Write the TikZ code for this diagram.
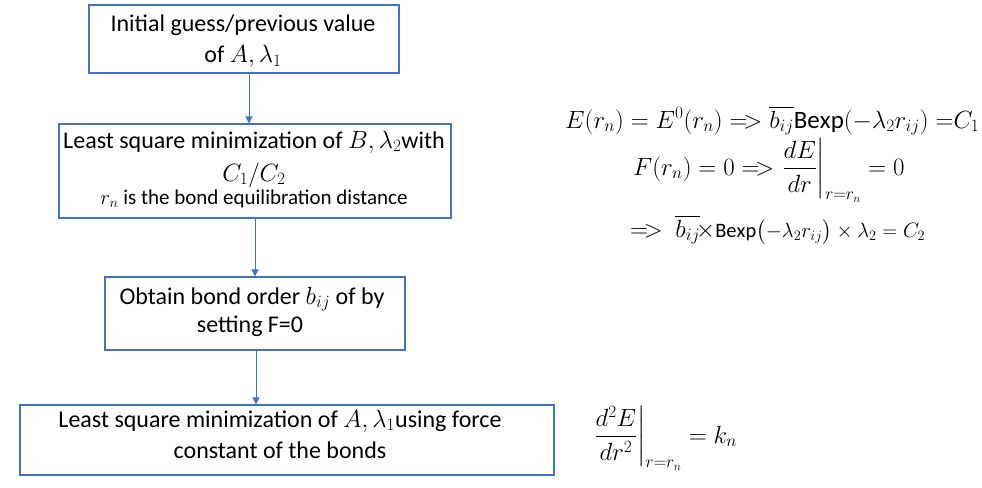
\documentclass[tikz,border=0pt]{standalone}
\usepackage{amsmath}
\usepackage{fontspec}
\setmainfont{Carlito}
\usetikzlibrary{arrows.meta}
\definecolor{bl}{HTML}{4472C4}
\tikzset{
  box/.style={draw=bl, line width=1.2pt, inner sep=0pt},
  arr/.style={draw=bl, line width=1pt, -{Triangle[length=7pt,width=7pt]}},
  txt/.style={font=\fontsize{24}{29}\selectfont, inner sep=0pt, anchor=base},
  smalltxt/.style={font=\fontsize{21}{25}\selectfont, inner sep=0pt, anchor=base},
  eqfont/.style={font=\fontsize{25}{30}\selectfont, inner sep=0pt, anchor=base west}
}
\begin{document}
\begin{tikzpicture}[x=1pt,y=-1pt]
\useasboundingbox (0,0) rectangle (982,487);
% boxes
\node[box, minimum width=310pt, minimum height=68pt] (b1) at (244,39) {};
\node[box, minimum width=392pt, minimum height=94pt] (b2) at (255,171) {};
\node[box, minimum width=300pt, minimum height=73pt] (b3) at (255,313.5) {};
\node[box, minimum width=534pt, minimum height=70pt] (b4) at (287,440) {};
% box texts
\node[txt] (t1a) at (243,32) {Initial guess/previous value};
\node[txt] (t1b) at (243,63) {of $A,\lambda_1$};
\node[txt] (t2a) at (254,148) {Least square minimization of $B,\lambda_2$with};
\node[txt] (t2b) at (254,181) {$C_1/C_2$};
\node[smalltxt] (t2c) at (254,204) {$r_n$ is the bond equilibration distance};
\node[txt] (t3a) at (252,304) {Obtain bond order $b_{ij}$ of by};
\node[txt] (t3b) at (250,332) {setting F=0};
\node[txt] (t4a) at (280,427) {Least square minimization of $A,\lambda_1$using force};
\node[txt] (t4b) at (280,458) {constant of the bonds};
% arrows
\coordinate (x1) at (249,0);
\coordinate (x2) at (255,0);
\coordinate (x3) at (256,0);
\draw[arr] (b1.south -| x1) -- (b2.north -| x1);
\draw[arr] (b2.south -| x2) -- (b3.north -| x2);
\draw[arr] (b3.south -| x3) -- (b4.north -| x3);
% equations
\node[eqfont] (e1) at (565,128)
  {$E(r_n) = E^0(r_n) =\!> \overline{b_{ij}}\mathrm{Bexp}(-\lambda_2 r_{ij})\;{=}C_1$};
\node[eqfont] (e2) at (633,175)
  {$F(r_n) = 0 =\!> \left.\dfrac{dE}{dr}\right|_{r=r_n} = 0$};
\node[eqfont] (e3) at (630,237)
  {$=\!>\ \overline{b_{ij}}\!\times$\mbox{\fontsize{20.5}{24}\selectfont$\mathrm{Bexp}\bigl(-\lambda_2 r_{ij}\bigr)\times\lambda_2 = C_2$}};
\node[eqfont] (e4) at (593,443)
  {$\left.\dfrac{d^2E}{dr^2}\right|_{r=r_n} = k_n$};
\end{tikzpicture}
\end{document}
